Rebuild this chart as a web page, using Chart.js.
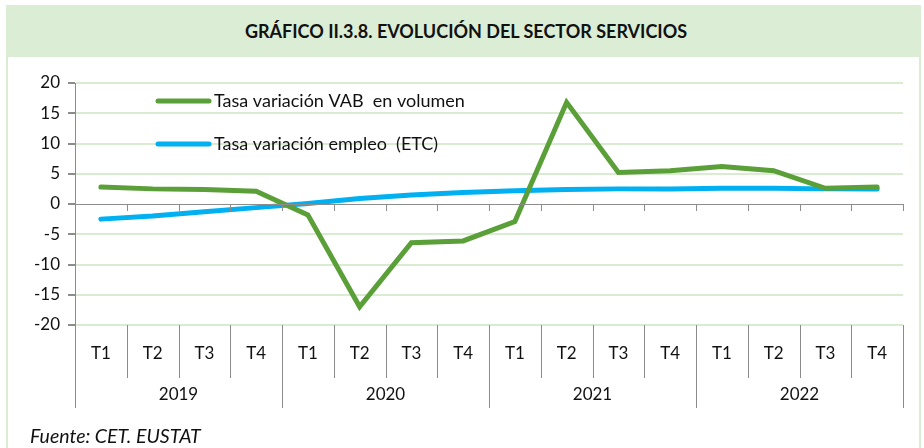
<!DOCTYPE html>
<html><head><meta charset="utf-8">
<script src="https://cdn.jsdelivr.net/npm/chart.js@4"></script>
<style>
html,body{margin:0;padding:0;background:#fff;}
#wrap{position:relative;width:924px;height:448px;overflow:hidden;font-family:Lato,"Open Sans",sans-serif;}
#frame{position:absolute;left:6px;top:5px;width:915px;height:460px;border:2px solid #dcecd4;box-sizing:border-box;}
#head{position:absolute;left:6px;top:5px;width:915px;height:52px;background:#dcedd5;}
#title{position:absolute;left:0;top:20px;width:932px;text-align:center;font-weight:bold;font-size:18px;color:#111;}
#src{position:absolute;left:30px;top:424px;font-style:italic;font-size:19.5px;color:#111;}
canvas{position:absolute;left:0;top:0;}
</style></head>
<body><div id="wrap">
<div id="frame"></div><div id="head"></div>
<div id="title">GRÁFICO II.3.8. EVOLUCIÓN DEL SECTOR SERVICIOS</div>
<canvas id="c" width="924" height="448"></canvas>
<div id="src">Fuente: CET. EUSTAT</div>
</div>
<script>
const quarters = ["T1","T2","T3","T4","T1","T2","T3","T4","T1","T2","T3","T4","T1","T2","T3","T4"];
const years = ["2019","2020","2021","2022"];
const vab = [2.8, 2.5, 2.4, 2.1, -1.8, -17.0, -6.4, -6.1, -2.9, 16.8, 5.2, 5.5, 6.2, 5.5, 2.6, 2.8];
const empleo = [-2.5, -2.0, -1.3, -0.6, 0.1, 0.9, 1.5, 1.9, 2.2, 2.4, 2.5, 2.5, 2.6, 2.6, 2.5, 2.5];
const seriesNames = ["Tasa variación VAB  en volumen", "Tasa variación empleo  (ETC)"];
const yTicks = [-20,-15,-10,-5,0,5,10,15,20];

const GRAY = '#8c8c8c';
const FONT = 'Lato, "Open Sans", sans-serif';

const custom = {
  id:'custom',
  afterDraw(chart){
    const ctx = chart.ctx, x = chart.scales.x, y = chart.scales.y, a = chart.chartArea;
    const n = quarters.length;
    const y0 = y.getPixelForValue(0);
    ctx.save();
    ctx.strokeStyle = GRAY; ctx.lineWidth = 1;
    ctx.beginPath();
    ctx.moveTo(a.left, Math.round(y0)+0.5); ctx.lineTo(a.right, Math.round(y0)+0.5);
    for(let i=0;i<=n;i++){
      const px = Math.round(x.getPixelForValue(i-0.5))+0.5;
      ctx.moveTo(px, y0); ctx.lineTo(px, y0+7);
      const long = (i%4===0);
      ctx.moveTo(px, a.bottom); ctx.lineTo(px, long ? a.bottom+83 : a.bottom+53);
    }
    ctx.stroke();
    ctx.fillStyle = '#111'; ctx.font = '17px '+FONT;
    ctx.textAlign='center'; ctx.textBaseline='middle';
    years.forEach((yr,k)=>{
      const cx = (x.getPixelForValue(4*k-0.5)+x.getPixelForValue(4*k+3.5))/2;
      ctx.fillText(yr, cx, a.bottom+70);
    });
    ctx.textAlign='left'; ctx.font = '18px '+FONT;
    chart.data.datasets.forEach((ds,k)=>{
      const ly = 101 + k*43;
      ctx.strokeStyle = ds.borderColor; ctx.lineWidth = 5; ctx.lineCap='round';
      ctx.beginPath(); ctx.moveTo(158, ly); ctx.lineTo(209, ly); ctx.stroke();
      ctx.fillStyle='#111';
      ctx.fillText(ds.label, 214, ly);
    });
    ctx.restore();
  }
};

new Chart(document.getElementById('c'), {
  type:'line',
  data:{
    labels: quarters,
    datasets:[
      {label: seriesNames[0], data: vab, borderColor:'#5a9f38', borderWidth:5, pointRadius:0, tension:0, borderCapStyle:'round'},
      {label: seriesNames[1], data: empleo, borderColor:'#00b0f0', borderWidth:5, pointRadius:0, tension:0, borderCapStyle:'round'}
    ]
  },
  options:{
    responsive:false, animation:false,
    layout:{padding:{left:0,right:21,top:83,bottom:0}},
    plugins:{legend:{display:false}, tooltip:{enabled:false}},
    scales:{
      x:{
        offset:true,
        grid:{display:false},
        border:{display:false},
        ticks:{color:'#111', font:{family:FONT,size:17}, padding:10, maxRotation:0, autoSkip:false},
        afterFit(s){ s.height = 123; }
      },
      y:{
        min:-20, max:20,
        afterBuildTicks(s){ s.ticks = yTicks.map(v=>({value:v})); },
        grid:{color:(c)=> c.tick && c.tick.value===0 ? 'rgba(0,0,0,0)' : '#d9ecd2', lineWidth:2, tickColor:GRAY, tickLength:7},
        border:{display:true, color:GRAY, width:1},
        ticks:{color:'#111', font:{family:FONT,size:17}, padding:8},
        afterFit(s){ s.width = 75; }
      }
    }
  },
  plugins:[custom]
});
</script>
</body></html>
